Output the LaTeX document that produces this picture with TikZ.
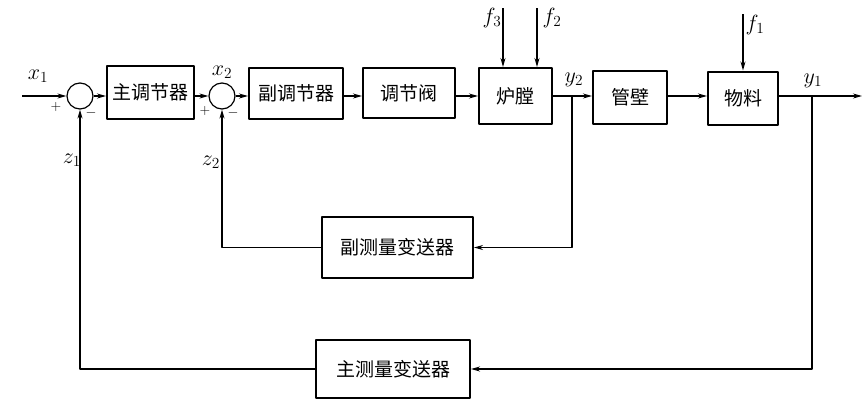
\documentclass[tikz,border=0pt]{standalone}
\usepackage{fontspec}
\usepackage{anyfontsize}
\newfontfamily\cjk{Noto Sans CJK SC}
\usetikzlibrary{arrows.meta}
\begin{document}
\begin{tikzpicture}[x=1pt,y=-1pt,line join=round,>={Stealth[length=9pt,width=5pt]},line width=1.2pt]
            \tikzset{blk/.style={draw,line width=2pt,inner sep=0pt,font=\cjk\fontsize{19}{22}\selectfont},
                sum/.style={draw,circle,minimum size=26pt,inner sep=0pt},
                lbl/.style={font=\fontsize{22}{26}\selectfont},
                sgn/.style={font=\fontsize{14}{16}\selectfont}}
            \useasboundingbox (0,0) rectangle (868,407);
            \node[sum] (s1) at (80,96) {};
            \node[sum] (s2) at (222,96) {};
            \node[blk,minimum width=87pt,minimum height=53pt] (c1) at (150.5,92) {主调节器};
            \node[blk,minimum width=94pt,minimum height=51pt] (c2) at (296,93) {副调节器};
            \node[blk,minimum width=92pt,minimum height=50pt] (valve) at (409,93) {调节阀};
            \node[blk,minimum width=73pt,minimum height=56pt] (furn) at (515.5,96) {炉膛};
            \node[blk,minimum width=74pt,minimum height=53pt] (wall) at (630,97) {管壁};
            \node[blk,minimum width=70pt,minimum height=53pt] (mat) at (743,98) {物料};
            \node[blk,minimum width=151pt,minimum height=61pt] (m2) at (397.5,247.5) {副测量变送器};
            \node[blk,minimum width=154pt,minimum height=58pt] (m1) at (393,369) {主测量变送器};
            \coordinate (in) at (22,96);
            \coordinate (out) at (862,96);
            \coordinate (b2) at (572,96);
            \coordinate (b1) at (812,96);
            \coordinate (f3) at (503,8);
            \coordinate (f2) at (537,8);
            \coordinate (f1) at (743,14);
            \draw[->] (in) -- (s1);
            \draw[->] (s1) -- (s1 -| c1.west);
            \draw[->] (s1 -| c1.east) -- (s2);
            \draw[->] (s2) -- (s2 -| c2.west);
            \draw[->] (s2 -| c2.east) -- (s2 -| valve.west);
            \draw[->] (s2 -| valve.east) -- (s2 -| furn.west);
            \draw[->] (s2 -| furn.east) -- (s2 -| wall.west);
            \draw[->] (s2 -| wall.east) -- (s2 -| mat.west);
            \draw[->] (s2 -| mat.east) -- (out);
            \draw[->] (b2) |- (m2);
            \draw[->] (m2) -| (s2);
            \draw[->] (b1) |- (m1);
            \draw[->] (m1) -| (s1);
            \draw[->] (f3) -- (f3 |- furn.north);
            \draw[->] (f2) -- (f2 |- furn.north);
            \draw[->] (f1) -- (f1 |- mat.north);
            \node[lbl] (lx1) at (38,76) {$x_1$};
            \node[sgn] (p1) at (56,107) {$+$};
            \node[sgn] (n1) at (91,113) {$-$};
            \node[lbl] (lx2) at (222,72) {$x_2$};
            \node[sgn] (p2) at (205,111) {$+$};
            \node[sgn] (n2) at (233,113) {$-$};
            \node[lbl] (lz1) at (72,160) {$z_1$};
            \node[lbl] (lz2) at (211,162) {$z_2$};
            \node[lbl] (lf3) at (492,18) {$f_3$};
            \node[lbl] (lf2) at (552,18) {$f_2$};
            \node[lbl] (ly2) at (574,80) {$y_2$};
            \node[lbl] (lf1) at (755,25) {$f_1$};
            \node[lbl] (ly1) at (813,81) {$y_1$};
        \end{tikzpicture}
\end{document}
